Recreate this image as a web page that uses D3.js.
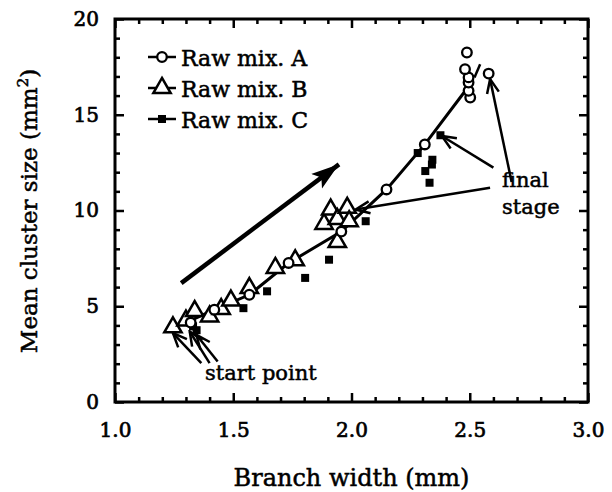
<html>
<script src="https://d3js.org/d3.v7.min.js"></script>
<style>
  body { margin: 0; background: #fff; }
  text { font-family: "DejaVu Serif", serif; fill: #000; }
</style>
<body>
<div id="chart_area"></div>
<script>
// data
var mixA_x = [1.32, 1.42, 1.568, 1.734, 1.957, 2.148, 2.31, 2.502, 2.495, 2.495, 2.495, 2.48, 2.488, 2.58];
var mixA_y = [4.15, 4.82, 5.6, 7.26, 8.9, 11.1, 13.45, 15.9, 16.25, 16.68, 16.95, 17.38, 18.25, 17.15];

var mixB_x = [1.245, 1.30, 1.337, 1.40, 1.449, 1.49, 1.568, 1.678, 1.762, 1.884, 1.912, 1.94, 1.982, 1.99, 1.94];
var mixB_y = [3.9, 4.25, 4.75, 4.47, 4.85, 5.3, 5.95, 7.0, 7.4, 9.3, 10.05, 9.55, 10.14, 9.44, 8.35];

var mixC_x = [1.33, 1.345, 1.543, 1.643, 1.804, 1.905, 2.06, 2.28, 2.312, 2.33, 2.34, 2.342, 2.376];
var mixC_y = [3.95, 3.75, 4.9, 5.78, 6.48, 7.43, 9.44, 13.0, 12.06, 11.45, 12.4, 12.65, 13.93];

// the drawn curve
var curve_x = [1.30, 1.42, 1.568, 1.734, 1.957, 2.148, 2.31, 2.475];
var curve_y = [4.15, 4.82, 5.6, 7.26, 8.9, 11.1, 13.45, 16.15];
var slash_x = [2.52, 2.544];
var slash_y = [16.95, 17.64];

// arrows [x1, y1, x2, y2] (tail -> tip)
var bigArrow = [1.28, 6.21, 1.947, 12.41];
var startArrows = [[1.365, 2.03, 1.245, 3.6], [1.40, 2.03, 1.316, 3.68], [1.434, 2.11, 1.344, 3.51]];
var finalArrows = [[2.677, 11.49, 2.586, 16.86], [2.60, 12.24, 2.382, 13.89], [2.586, 11.19, 2.018, 10.05]];

var xMajor = [1.0, 1.5, 2.0, 2.5, 3.0];
var yMajor = [0, 5, 10, 15, 20];
var legendLabels = ["Raw mix. A", "Raw mix. B", "Raw mix. C"];

var W = 612, H = 492;
var pL = 115, pR = 588, pT = 19, pB = 402;
var serif = "DejaVu Serif, serif";

var svg = d3.select("#chart_area").append("svg").attr("width", W).attr("height", H);

var x = d3.scaleLinear().domain([1, 3]).range([pL, pR]);
var y = d3.scaleLinear().domain([0, 20]).range([pB, pT]);

var xMinor = d3.range(10, 31).map(d => d / 10).filter(d => xMajor.indexOf(d) < 0);
var yMinor = d3.range(0, 21).filter(d => yMajor.indexOf(d) < 0);

function styleAxis(g) {
  g.attr("font-family", serif).attr("font-size", 20);
  g.select(".domain").remove();
  g.selectAll("line").attr("stroke", "#000").attr("stroke-width", 2.5);
  g.selectAll("text").attr("fill", "#000").attr("stroke", "#000").attr("stroke-width", 0.7);
}

// bottom
svg.append("g").attr("transform", "translate(0," + pB + ")")
  .call(d3.axisBottom(x).tickValues(xMinor).tickSize(-5).tickFormat("")).call(styleAxis);
svg.append("g").attr("transform", "translate(0," + pB + ")")
  .call(d3.axisBottom(x).tickValues(xMajor).tickSize(-9).tickPadding(21).tickFormat(d3.format(".1f"))).call(styleAxis);
// top
svg.append("g").attr("transform", "translate(0," + pT + ")")
  .call(d3.axisTop(x).tickValues(xMinor).tickSize(-5).tickFormat("")).call(styleAxis);
svg.append("g").attr("transform", "translate(0," + pT + ")")
  .call(d3.axisTop(x).tickValues(xMajor).tickSize(-9).tickFormat("")).call(styleAxis);
// left
svg.append("g").attr("transform", "translate(" + pL + ",0)")
  .call(d3.axisLeft(y).tickValues(yMinor).tickSize(-5).tickFormat("")).call(styleAxis);
svg.append("g").attr("transform", "translate(" + pL + ",0)")
  .call(d3.axisLeft(y).tickValues(yMajor).tickSize(-9).tickPadding(16).tickFormat(d3.format("d"))).call(styleAxis);
// right
svg.append("g").attr("transform", "translate(" + pR + ",0)")
  .call(d3.axisRight(y).tickValues(yMinor).tickSize(-5).tickFormat("")).call(styleAxis);
svg.append("g").attr("transform", "translate(" + pR + ",0)")
  .call(d3.axisRight(y).tickValues(yMajor).tickSize(-9).tickFormat("")).call(styleAxis);

svg.append("rect").attr("x", pL).attr("y", pT).attr("width", pR - pL).attr("height", pB - pT)
  .attr("fill", "none").attr("stroke", "#000").attr("stroke-width", 3);

// axis titles
svg.append("text").attr("x", (pL + pR) / 2).attr("y", 486).attr("text-anchor", "middle")
  .style("font-size", "24px").attr("stroke", "#000").attr("stroke-width", 0.5).text("Branch width (mm)");
var yt = svg.append("text").attr("transform", "translate(37," + 211 + ") rotate(-90)").attr("text-anchor", "middle")
  .style("font-size", "23px").attr("stroke", "#000").attr("stroke-width", 0.5);
yt.append("tspan").text("Mean cluster size (mm");
yt.append("tspan").attr("dy", -9).style("font-size", "15px").text("2");
yt.append("tspan").attr("dy", 9).text(")");

// markers for arrows
var defs = svg.append("defs");
defs.append("marker").attr("id", "bighead").attr("markerUnits", "userSpaceOnUse")
  .attr("viewBox", "-28 -10 30 20").attr("refX", 0).attr("refY", 0)
  .attr("markerWidth", 30).attr("markerHeight", 20).attr("orient", "auto")
  .append("path").attr("d", "M0,0 L-28,-9 L-22,0 L-28,9 Z").attr("fill", "#000");
defs.append("marker").attr("id", "vee").attr("markerUnits", "userSpaceOnUse")
  .attr("viewBox", "-16 -8 18 16").attr("refX", 0).attr("refY", 0)
  .attr("markerWidth", 18).attr("markerHeight", 16).attr("orient", "auto")
  .append("path").attr("d", "M-14,-6 L0,0 L-14,6").attr("fill", "none").attr("stroke", "#000").attr("stroke-width", 2.5);

// curve
var line = d3.line().x(d => x(d[0])).y(d => y(d[1]));
svg.append("path").datum(d3.zip(curve_x, curve_y)).attr("d", line)
  .attr("fill", "none").attr("stroke", "#000").attr("stroke-width", 3);
svg.append("path").datum(d3.zip(slash_x, slash_y)).attr("d", line)
  .attr("fill", "none").attr("stroke", "#000").attr("stroke-width", 2.5);

// big arrow
svg.append("line").attr("x1", x(bigArrow[0])).attr("y1", y(bigArrow[1]))
  .attr("x2", x(bigArrow[2])).attr("y2", y(bigArrow[3]))
  .attr("stroke", "#000").attr("stroke-width", 4.5).attr("marker-end", "url(#bighead)");

// annotation arrows
svg.append("g").selectAll("line").data(startArrows.concat(finalArrows)).enter().append("line")
  .attr("x1", d => x(d[0])).attr("y1", d => y(d[1]))
  .attr("x2", d => x(d[2])).attr("y2", d => y(d[3]))
  .attr("stroke", "#000").attr("stroke-width", 2.5).attr("marker-end", "url(#vee)");

// points
var tri = d3.symbol().type(d3.symbolTriangle).size(130);
svg.append("g").selectAll("path").data(d3.zip(mixB_x, mixB_y)).enter().append("path")
  .attr("transform", d => "translate(" + x(d[0]) + "," + y(d[1]) + ")")
  .attr("d", tri).attr("fill", "#fff").attr("stroke", "#000").attr("stroke-width", 2.5);
svg.append("g").selectAll("rect").data(d3.zip(mixC_x, mixC_y)).enter().append("rect")
  .attr("x", d => x(d[0]) - 4).attr("y", d => y(d[1]) - 4).attr("width", 8).attr("height", 8).attr("fill", "#000");
svg.append("g").selectAll("circle").data(d3.zip(mixA_x, mixA_y)).enter().append("circle")
  .attr("cx", d => x(d[0])).attr("cy", d => y(d[1])).attr("r", 4.8)
  .attr("fill", "#fff").attr("stroke", "#000").attr("stroke-width", 2.3);

// annotation text
function note(tx, ty, s) {
  svg.append("text").attr("x", tx).attr("y", ty).style("font-size", "21px")
    .attr("stroke", "#000").attr("stroke-width", 0.5).text(s);
}
note(205, 380, "start point");
note(502, 187, "final");
note(502, 214, "stage");

// legend
var lg = svg.append("g").selectAll("g").data(legendLabels).enter().append("g")
  .attr("transform", (d, i) => "translate(0," + (57 + i * 31) + ")");
lg.append("line").attr("x1", 148).attr("x2", 176).attr("stroke", "#000").attr("stroke-width", 2.5);
lg.append("text").attr("x", 181).attr("y", 9).style("font-size", "22px")
  .attr("stroke", "#000").attr("stroke-width", 0.5).text(d => d);
lg.filter((d, i) => i === 0).append("circle").attr("cx", 162).attr("r", 4.8)
  .attr("fill", "#fff").attr("stroke", "#000").attr("stroke-width", 2.3);
lg.filter((d, i) => i === 1).append("path").attr("transform", "translate(162,0)").attr("d", tri)
  .attr("fill", "#fff").attr("stroke", "#000").attr("stroke-width", 2.5);
lg.filter((d, i) => i === 2).append("rect").attr("x", 158).attr("y", -4).attr("width", 8).attr("height", 8).attr("fill", "#000");
</script>
</body>
</html>
